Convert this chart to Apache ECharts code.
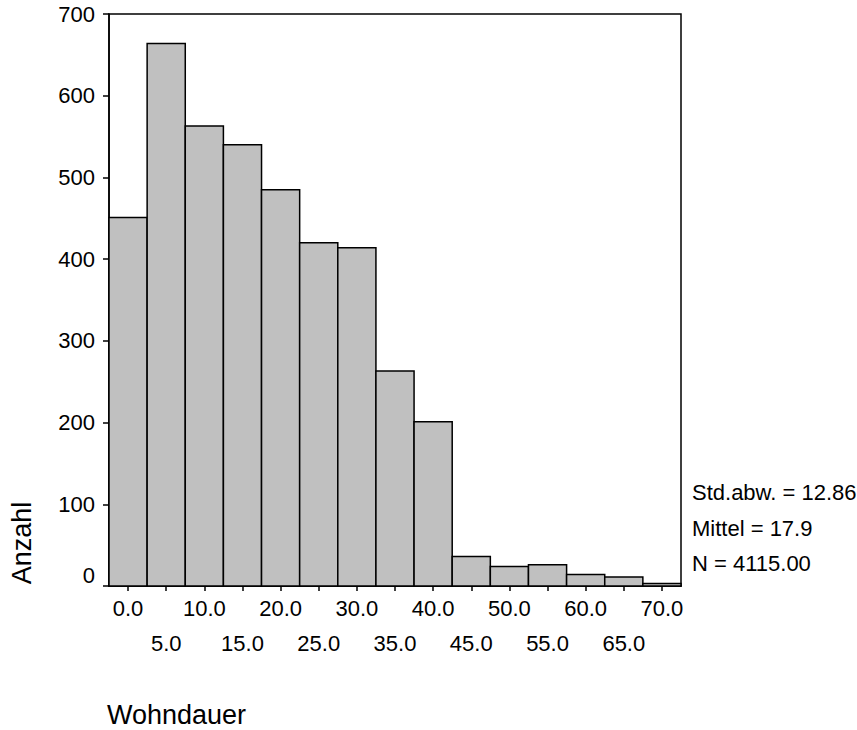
<!DOCTYPE html>
<html>
<head>
<meta charset="utf-8">
<script src="https://cdn.jsdelivr.net/npm/echarts@6/dist/echarts.min.js"></script>
<style>
html,body{margin:0;padding:0;background:#fff;}
#c{width:857px;height:730px;}
</style>
</head>
<body>
<div id="c"></div>
<script>
// Bin centers (Wohndauer) and counts (Anzahl)
var binCenters = [0, 5, 10, 15, 20, 25, 30, 35, 40, 45, 50, 55, 60, 65, 70];
var counts = [451, 664, 563, 540, 485, 420, 414, 263, 201, 36, 24, 26, 14, 11, 3];
var binWidth = 5;
var tickValues = [0, 5, 10, 15, 20, 25, 30, 35, 40, 45, 50, 55, 60, 65, 70];
var labelsRow1 = [0, 10, 20, 30, 40, 50, 60, 70];
var labelsRow2 = [5, 15, 25, 35, 45, 55, 65];
var statsLines = ['Std.abw. = 12.86', 'Mittel = 17.9', 'N = 4115.00'];
var xTitle = 'Wohndauer';
var yTitle = 'Anzahl';

var FONT = 'Liberation Sans, Arial, sans-serif';
var chart = echarts.init(document.getElementById('c'), null, {renderer: 'svg'});

var data = binCenters.map(function (c, i) { return [c, counts[i]]; });

var option = {
  animation: false,
  backgroundColor: '#fff',
  grid: {
    left: 109, top: 14, right: 176, bottom: 144,
    show: true, borderColor: '#000', borderWidth: 1.5, backgroundColor: 'transparent'
  },
  xAxis: [{
    type: 'value', min: -2.5, max: 72.5,
    axisLine: {show: true, onZero: false, lineStyle: {color: '#000', width: 1.5}},
    axisTick: {show: true, customValues: tickValues, length: 5, lineStyle: {color: '#000', width: 1.5}},
    axisLabel: {show: true, customValues: labelsRow1, margin: 11, color: '#000', fontSize: 22, fontFamily: FONT,
      formatter: function (v) { return v.toFixed(1); }},
    splitLine: {show: false}
  }, {
    type: 'value', min: -2.5, max: 72.5, position: 'bottom',
    axisLine: {show: false, onZero: false},
    axisTick: {show: false},
    axisLabel: {show: true, customValues: labelsRow2, margin: 46, color: '#000', fontSize: 22, fontFamily: FONT,
      formatter: function (v) { return v.toFixed(1); }},
    splitLine: {show: false}
  }],
  yAxis: {
    type: 'value', min: 0, max: 700, interval: 100,
    axisLine: {show: true, onZero: false, lineStyle: {color: '#000', width: 1.5}},
    axisTick: {show: true, length: 6, lineStyle: {color: '#000', width: 1.5}},
    axisLabel: {margin: 14, color: '#000', fontSize: 22, fontFamily: FONT,
      formatter: function (v) { return v === 0 ? '{z|0}' : String(v); },
      rich: {z: {fontSize: 22, fontFamily: FONT, color: '#000', padding: [0, 0, 22, 0]}}},
    splitLine: {show: false}
  },
  series: [{
    type: 'custom',
    xAxisIndex: 0,
    data: data,
    renderItem: function (params, api) {
      var c = api.value(0), v = api.value(1);
      var p1 = api.coord([c - binWidth / 2, v]);
      var p2 = api.coord([c + binWidth / 2, 0]);
      return {
        type: 'rect',
        shape: {x: p1[0], y: p1[1], width: p2[0] - p1[0], height: p2[1] - p1[1]},
        style: {fill: '#c0c0c0', stroke: '#000', lineWidth: 1.5}
      };
    }
  }],
  graphic: [
    {type: 'text', left: 692, top: 481, style: {text: statsLines[0], fontSize: 22, fontFamily: FONT, fill: '#000'}},
    {type: 'text', left: 692, top: 517, style: {text: statsLines[1], fontSize: 22, fontFamily: FONT, fill: '#000'}},
    {type: 'text', left: 692, top: 552, style: {text: statsLines[2], fontSize: 22, fontFamily: FONT, fill: '#000'}},
    {type: 'text', x: 107, y: 715, style: {text: xTitle, fontSize: 27, fontFamily: FONT, fill: '#000', verticalAlign: 'middle', align: 'left'}},
    {type: 'text', x: 22, y: 543, rotation: Math.PI / 2, style: {text: yTitle, fontSize: 27, fontFamily: FONT, fill: '#000', verticalAlign: 'middle', align: 'center'}}
  ]
};
chart.setOption(option);
</script>
</body>
</html>
